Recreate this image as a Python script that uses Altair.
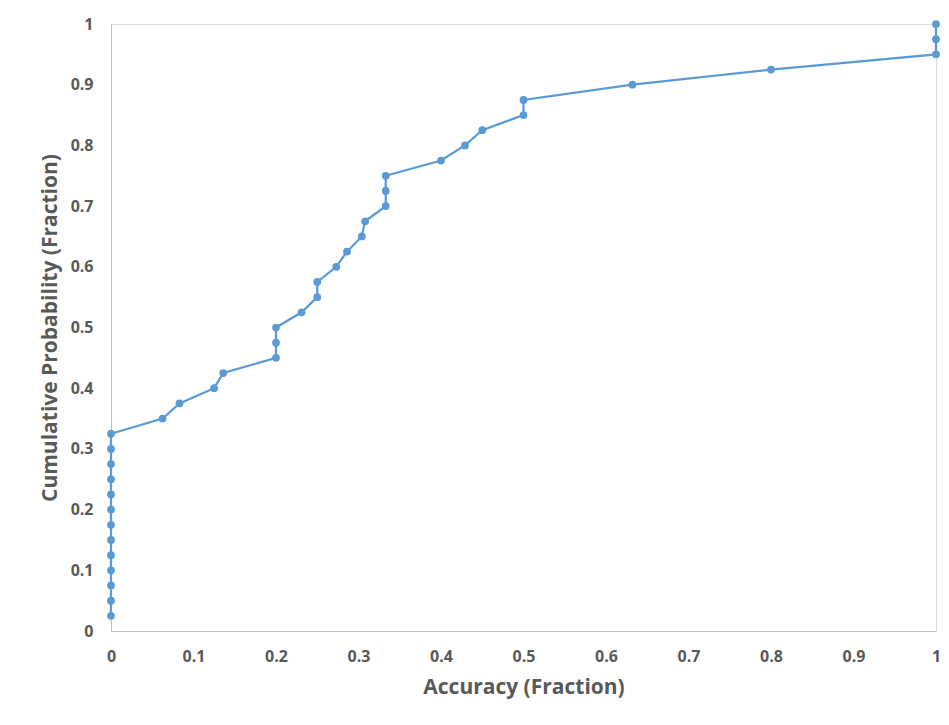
import altair as alt
import pandas as pd

accuracy = [0, 0, 0, 0, 0, 0, 0, 0, 0, 0, 0, 0, 0,
            0.0625, 0.083, 0.125, 0.136, 0.2, 0.2, 0.2, 0.231, 0.25, 0.25,
            0.273, 0.286, 0.304, 0.308, 0.333, 0.333, 0.333, 0.4, 0.429,
            0.45, 0.5, 0.5, 0.632, 0.8, 1.0, 1.0, 1.0]
cum_prob = [0.025, 0.05, 0.075, 0.1, 0.125, 0.15, 0.175, 0.2, 0.225, 0.25,
            0.275, 0.3, 0.325, 0.35, 0.375, 0.4, 0.425, 0.45, 0.475, 0.5,
            0.525, 0.55, 0.575, 0.6, 0.625, 0.65, 0.675, 0.7, 0.725, 0.75,
            0.775, 0.8, 0.825, 0.85, 0.875, 0.9, 0.925, 0.95, 0.975, 1.0]
tick_values = [0, 0.1, 0.2, 0.3, 0.4, 0.5, 0.6, 0.7, 0.8, 0.9, 1]

df = pd.DataFrame({"acc": accuracy, "cp": cum_prob, "order": list(range(len(accuracy)))})

FONT = "Open Sans"
GREY = "#595959"

axis_common = dict(
    grid=False, ticks=False, domainColor="#bfbfbf", domainWidth=1,
    labelColor=GREY, labelFont=FONT, labelFontSize=16, labelFontWeight="bold",
    titleColor=GREY, titleFont=FONT, titleFontSize=21, titleFontWeight="bold",
    values=tick_values, format=".1~f", labelFlush=False, labelOverlap=False,
)

line = alt.Chart(df).mark_line(
    point=alt.OverlayMarkDef(size=60, filled=True, color="#5b9bd5", opacity=1),
    color="#5b9bd5", strokeWidth=2.25,
).encode(
    x=alt.X("acc:Q", scale=alt.Scale(domain=[0, 1], nice=False),
            axis=alt.Axis(title="Accuracy (Fraction)", labelPadding=17, titlePadding=12, **axis_common)),
    y=alt.Y("cp:Q", scale=alt.Scale(domain=[0, 1], nice=False),
            axis=alt.Axis(title="Cumulative Probability (Fraction)", labelPadding=18, titlePadding=10, **axis_common)),
    order="order:Q",
)

frame_left = alt.Chart(df).mark_rule(color="#d9d9d9", strokeWidth=1).encode(
    x=alt.value(-104), y=alt.value(-22), y2=alt.value(720)
)
frame_top = alt.Chart(df).mark_rule(color="#d9d9d9", strokeWidth=1).encode(
    x=alt.value(-104), x2=alt.value(840), y=alt.value(-22)
)

chart = alt.layer(frame_left, frame_top, line).properties(
    width=825, height=607,
    autosize=alt.AutoSizeParams(type="none"),
    padding={"left": 103, "top": 16, "right": 5, "bottom": 80},
).configure_view(stroke=None).configure(background="white")

chart.save("out.html", embed_options={"renderer": "svg", "actions": False})
